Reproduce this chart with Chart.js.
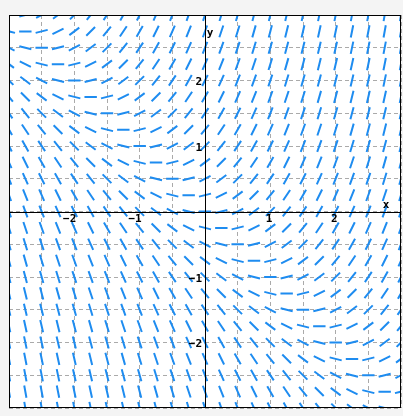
<!DOCTYPE html>
<html>
<head>
<script src="https://cdn.jsdelivr.net/npm/chart.js@4"></script>
<style>
body { margin: 0; background: #f4f4f4; }
#wrap { width: 403px; height: 416px; }
</style>
</head>
<body>
<div id="wrap"><canvas id="field"></canvas></div>
<script>
// grid of sample points for the slope field dy/dx = x + y
const xs = [-3, -2.75, -2.5, -2.25, -2, -1.75, -1.5, -1.25, -1, -0.75, -0.5, -0.25, 0, 0.25, 0.5, 0.75, 1, 1.25, 1.5, 1.75, 2, 2.25, 2.5, 2.75, 3]
const ys = [-3, -2.75, -2.5, -2.25, -2, -1.75, -1.5, -1.25, -1, -0.75, -0.5, -0.25, 0, 0.25, 0.5, 0.75, 1, 1.25, 1.5, 1.75, 2, 2.25, 2.5, 2.75, 3]
const xTicks = [-2, -1, 1, 2]
const yTicks = [-2, -1, 1, 2]
const half = 0.095

let segs = []
xs.forEach(x => {
    ys.forEach(y => {
        let m = x + y
        let n = Math.sqrt(1 + m * m)
        let dx = half / n, dy = half * m / n
        segs.push({ x: x - dx, y: y - dy })
        segs.push({ x: x + dx, y: y + dy })
        segs.push({ x: NaN, y: NaN })
    })
})

const axesPlugin = {
    id: "axes",
    afterDraw(chart) {
        const ctx = chart.ctx
        const a = chart.chartArea
        const sx = chart.scales.x, sy = chart.scales.y
        const x0 = sx.getPixelForValue(0), y0 = sy.getPixelForValue(0)
        ctx.save()
        ctx.strokeStyle = "#000"
        ctx.lineWidth = 1
        ctx.strokeRect(a.left + 0.5, a.top + 0.5, a.right - a.left - 1, a.bottom - a.top - 1)
        ctx.beginPath()
        ctx.moveTo(a.left, Math.round(y0) + 0.5); ctx.lineTo(a.right, Math.round(y0) + 0.5)
        ctx.moveTo(Math.round(x0) + 0.5, a.top); ctx.lineTo(Math.round(x0) + 0.5, a.bottom)
        ctx.stroke()
        ctx.fillStyle = "#000"
        ctx.font = "bold 11px 'DejaVu Sans Mono'"
        ctx.textAlign = "right"
        ctx.textBaseline = "top"
        xTicks.forEach(t => ctx.fillText(String(t).replace("-", "\u2212"), sx.getPixelForValue(t) + 2, y0 + 2))
        ctx.textBaseline = "middle"
        yTicks.forEach(t => ctx.fillText(String(t).replace("-", "\u2212"), x0 - 3, sy.getPixelForValue(t) + 2))
        ctx.textAlign = "center"
        ctx.fillText("x", a.right - 15, y0 - 6)
        ctx.fillText("y", x0 + 5, a.top + 18)
        ctx.restore()
    }
}

new Chart("field", {
    type: "scatter",
    data: {
        datasets: [{
            data: segs,
            showLine: true,
            spanGaps: false,
            borderColor: "#1e8cf0",
            borderWidth: 2,
            pointRadius: 0
        }]
    },
    options: {
        responsive: true,
        maintainAspectRatio: false,
        animation: false,
        layout: { padding: { left: 9, right: 2, top: 15, bottom: 8 } },
        plugins: { legend: { display: false }, tooltip: { enabled: false } },
        scales: {
            x: {
                min: -3, max: 3,
                ticks: { display: false, stepSize: 0.5 },
                grid: { color: "#aaa", drawTicks: false },
                border: { display: false, dash: [4, 3] }
            },
            y: {
                min: -3, max: 3,
                ticks: { display: false, stepSize: 0.5 },
                grid: { color: "#aaa", drawTicks: false },
                border: { display: false, dash: [4, 3] }
            }
        }
    },
    plugins: [axesPlugin, {
        id: "bg",
        beforeDraw(chart) {
            const a = chart.chartArea
            chart.ctx.fillStyle = "#fff"
            chart.ctx.fillRect(a.left, a.top, a.right - a.left, a.bottom - a.top)
        }
    }]
})
</script>
</body>
</html>
